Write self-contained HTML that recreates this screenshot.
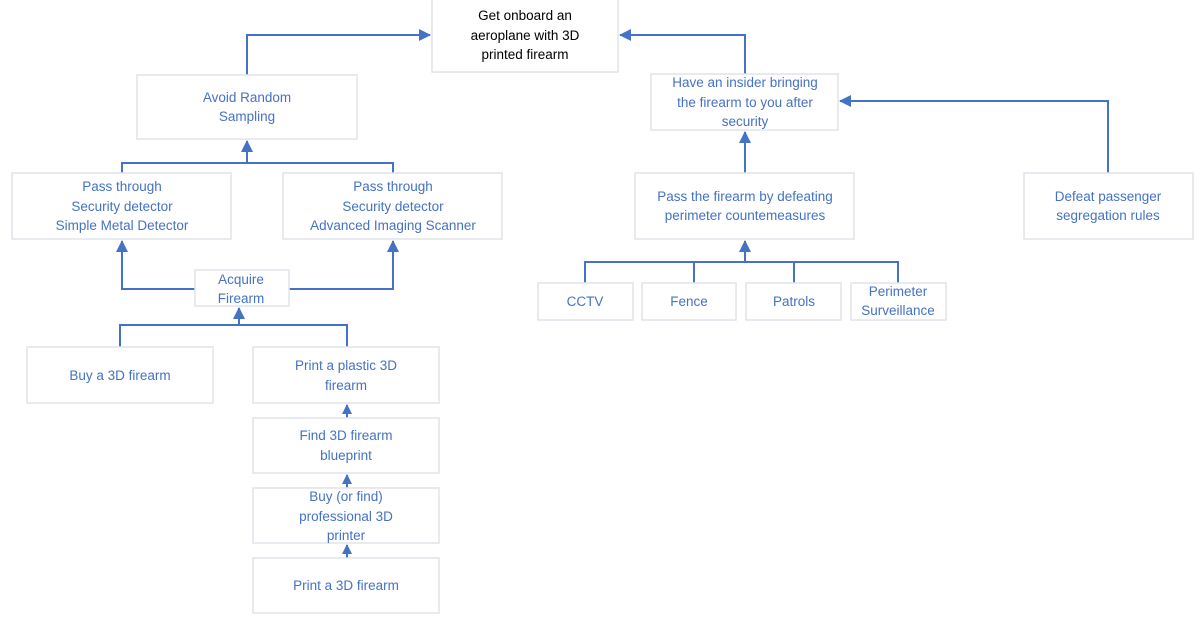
<!DOCTYPE html>
<html><head><meta charset="utf-8"><style>
html,body{margin:0;padding:0;background:#fff;}
svg{display:block;}
text{font-family:"Liberation Sans",sans-serif;font-size:13.5px;fill:#4472c4;text-anchor:middle;}
rect{fill:#fff;stroke:#e2e4ea;stroke-width:1.5;}
.l{fill:none;stroke:#4472c4;stroke-width:2;}
.a{fill:#4472c4;}
</style></head><body>
<svg width="1202" height="635" viewBox="0 0 1202 635">
<defs><marker id="m" markerWidth="10" markerHeight="10" refX="9" refY="5" orient="auto" markerUnits="userSpaceOnUse"><path d="M0,0 L10,5 L0,10z" class="a"/></marker>
<marker id="n" markerWidth="12" markerHeight="12" refX="11" refY="6" orient="auto" markerUnits="userSpaceOnUse"><path d="M0,0 L12,6 L0,12z" class="a"/></marker></defs>
<path class="l" d="M247,75 V35 H430" marker-end="url(#n)"/>
<path class="l" d="M745,74 V35 H620" marker-end="url(#n)"/>
<path class="l" d="M122,173 V163 H393 V173"/>
<path class="l" d="M247,163 V141" marker-end="url(#n)"/>
<path class="l" d="M195,289 H122 V241" marker-end="url(#n)"/>
<path class="l" d="M289,289 H393 V241" marker-end="url(#n)"/>
<path class="l" d="M120,347 V325 H347 V347"/>
<path class="l" d="M239,325 V308" marker-end="url(#n)"/>
<path class="l" d="M347,418 V405" marker-end="url(#m)"/>
<path class="l" d="M347,488 V475" marker-end="url(#m)"/>
<path class="l" d="M347,558 V545" marker-end="url(#m)"/>
<path class="l" d="M745,173 V132" marker-end="url(#n)"/>
<path class="l" d="M1108,173 V101 H840" marker-end="url(#n)"/>
<path class="l" d="M585,283 V262 H898 V283 M694,262 V283 M794,262 V283"/>
<path class="l" d="M745,262 V241" marker-end="url(#n)"/>
<rect x="432" y="-1" width="186" height="73"/>
<text style="fill:#000" x="525" y="20">Get onboard an</text><text style="fill:#000" x="525" y="40">aeroplane with 3D</text><text style="fill:#000" x="525" y="59">printed firearm</text>
<rect x="137" y="75" width="220" height="64"/>
<text x="247" y="102">Avoid Random</text><text x="247" y="121">Sampling</text>
<rect x="12" y="173" width="219" height="66"/>
<text x="122" y="191">Pass through</text><text x="122" y="211">Security detector</text><text x="122" y="230">Simple Metal Detector</text>
<rect x="283" y="173" width="219" height="66"/>
<text x="393" y="191">Pass through</text><text x="393" y="211">Security detector</text><text x="393" y="230">Advanced Imaging Scanner</text>
<rect x="195" y="270" width="94" height="36"/>
<text x="241" y="284">Acquire</text><text x="241" y="303">Firearm</text>
<rect x="27" y="347" width="186" height="56"/>
<text x="120" y="380">Buy a 3D firearm</text>
<rect x="253" y="347" width="186" height="56"/>
<text x="346" y="370">Print a plastic 3D</text><text x="346" y="390">firearm</text>
<rect x="253" y="418" width="186" height="55"/>
<text x="346" y="440">Find 3D firearm</text><text x="346" y="460">blueprint</text>
<rect x="253" y="488" width="186" height="55"/>
<text x="346" y="501">Buy (or find)</text><text x="346" y="521">professional 3D</text><text x="346" y="540">printer</text>
<rect x="253" y="558" width="186" height="55"/>
<text x="346" y="590">Print a 3D firearm</text>
<rect x="651" y="74" width="187" height="56"/>
<text x="745" y="87">Have an insider bringing</text><text x="745" y="107">the firearm to you after</text><text x="745" y="126">security</text>
<rect x="635" y="173" width="219" height="66"/>
<text x="745" y="201">Pass the firearm by defeating</text><text x="745" y="220">perimeter countemeasures</text>
<rect x="1024" y="173" width="169" height="66"/>
<text x="1108" y="201">Defeat passenger</text><text x="1108" y="220">segregation rules</text>
<rect x="538" y="283" width="95" height="37"/><text x="585" y="306">CCTV</text>
<rect x="642" y="283" width="94" height="37"/><text x="689" y="306">Fence</text>
<rect x="746" y="283" width="95" height="37"/><text x="794" y="306">Patrols</text>
<rect x="851" y="283" width="95" height="37"/><text x="898" y="296">Perimeter</text><text x="898" y="315">Surveillance</text>
</svg>
</body></html>
